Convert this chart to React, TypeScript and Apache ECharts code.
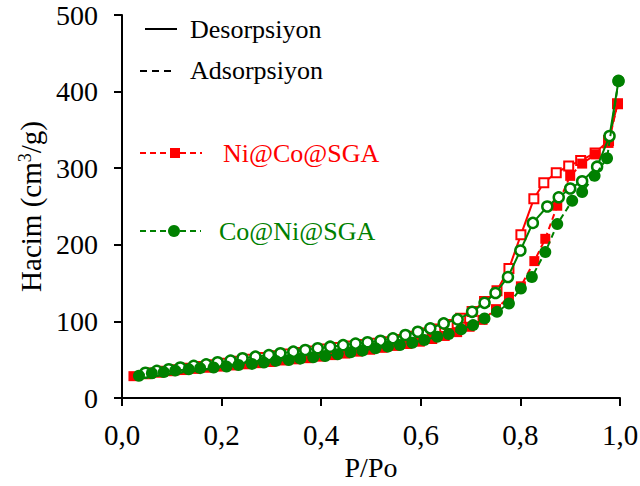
import React, { useEffect, useRef } from "react";
import * as echarts from "echarts";

// Ni@Co@SGA isotherm (relative pressure P/Po, volume cm3/g)
const niAdsP = [0.023, 0.048, 0.073, 0.098, 0.123, 0.148, 0.173, 0.198, 0.223, 0.248, 0.273, 0.298, 0.323, 0.348, 0.373, 0.398, 0.423, 0.448, 0.473, 0.498, 0.523, 0.548, 0.573, 0.598, 0.623, 0.648, 0.673, 0.698, 0.724, 0.751, 0.777, 0.801, 0.828, 0.85, 0.874, 0.9, 0.924, 0.951, 0.977, 0.995];
const niAdsV = [28.5, 31, 33, 35, 36.5, 38, 39.5, 41, 42.5, 44, 45.5, 47, 49, 50.5, 52, 54, 56, 58, 60.5, 63, 65.5, 68, 70.5, 73.5, 77, 81, 86, 93, 102, 116, 132, 145.8, 178.7, 207.8, 251, 290, 306, 318, 333, 384];
const niDesP = [0.995, 0.977, 0.95, 0.921, 0.897, 0.872, 0.847, 0.827, 0.801, 0.777, 0.753, 0.728, 0.703, 0.68, 0.655, 0.63, 0.605, 0.58, 0.555, 0.53, 0.505, 0.48, 0.455, 0.43, 0.405, 0.38, 0.355, 0.33, 0.305, 0.28, 0.255, 0.23, 0.205, 0.18, 0.155, 0.13, 0.105, 0.08, 0.055];
const niDesV = [384, 336, 320, 310, 303, 294, 281, 260, 213, 169, 140, 126, 113, 104, 96, 90, 85, 80.5, 76.5, 73.5, 71.5, 70, 68, 66, 64, 61.5, 59.5, 57.5, 55, 53, 50.5, 48, 45.5, 43.5, 41, 39, 37, 35, 32.5];

// Co@Ni@SGA isotherm
const coAdsP = [0.034, 0.06, 0.084, 0.107, 0.134, 0.157, 0.184, 0.21, 0.234, 0.261, 0.285, 0.309, 0.335, 0.358, 0.384, 0.408, 0.433, 0.459, 0.483, 0.509, 0.534, 0.558, 0.583, 0.607, 0.633, 0.656, 0.681, 0.705, 0.728, 0.753, 0.777, 0.801, 0.823, 0.85, 0.874, 0.904, 0.924, 0.949, 0.974, 0.997];
const coAdsV = [29, 32.4, 33.8, 35.8, 37.6, 39, 39.8, 41, 43, 44.5, 46.2, 48.4, 49.7, 51.4, 53.2, 54.9, 57.1, 59.7, 61.8, 64.9, 67, 69.2, 72.2, 75.7, 80, 83.5, 89.6, 95.2, 103.9, 112.5, 123.4, 142.9, 157.9, 190.5, 227, 257.5, 269, 290, 313, 414];
const coDesP = [0.997, 0.979, 0.954, 0.924, 0.9, 0.877, 0.854, 0.825, 0.8, 0.775, 0.75, 0.728, 0.703, 0.674, 0.646, 0.619, 0.594, 0.569, 0.544, 0.519, 0.493, 0.469, 0.444, 0.418, 0.393, 0.368, 0.344, 0.318, 0.295, 0.268, 0.242, 0.218, 0.192, 0.169, 0.144, 0.117, 0.094, 0.07, 0.047];
const coDesV = [414, 342, 302, 283, 273.5, 262, 250, 228.6, 192.6, 157.9, 137.1, 124.2, 112.5, 102.6, 97.4, 90.9, 86.5, 82.2, 77.9, 74.8, 72.8, 71, 69, 67, 64.9, 62.7, 60.5, 58.4, 56, 54, 51.9, 48.8, 46.7, 44, 42, 39.8, 37.6, 35.5, 33];

const legendLabels = ["Desorpsiyon", "Adsorpsiyon", "Ni@Co@SGA", "Co@Ni@SGA"];

const RED = "#ff0000";
const GREEN = "#008000";
const FONT = "'Liberation Serif', 'Times New Roman', serif";

const pairs = (xs: number[], ys: number[]) => xs.map((x, i) => [x, ys[i]]);

export default function App() {
  const ref = useRef<HTMLDivElement>(null);

  useEffect(() => {
    if (!ref.current) return;
    const chart = echarts.init(ref.current, null, { renderer: "svg" });

    const legendText = (text: string, x: number, y: number, color: string) => ({
      type: "text",
      x,
      y,
      style: { text, fill: color, font: `26px ${FONT}`, textVerticalAlign: "middle" },
    });

    chart.setOption({
      animation: false,
      backgroundColor: "#ffffff",
      grid: { left: 122, right: 20, top: 15, bottom: 88, outerBoundsMode: "none" },
      xAxis: {
        type: "value",
        min: 0,
        max: 1,
        interval: 0.2,
        name: "P/Po",
        nameLocation: "middle",
        nameGap: 52,
        nameTextStyle: { fontFamily: FONT, fontSize: 28, color: "#000" },
        axisLine: { show: true, lineStyle: { color: "#000", width: 2 } },
        axisTick: { show: true, length: 8, lineStyle: { color: "#000", width: 2 } },
        axisLabel: {
          fontFamily: FONT,
          fontSize: 29,
          color: "#000",
          margin: 22,
          formatter: (v: number) => v.toFixed(1).replace(".", ","),
        },
        splitLine: { show: false },
      },
      yAxis: {
        type: "value",
        min: 0,
        max: 500,
        interval: 100,
        name: "Hacim (cm{sup|3}/g)",
        nameLocation: "middle",
        nameRotate: 90,
        nameGap: 73,
        nameTextStyle: {
          fontFamily: FONT,
          fontSize: 29,
          color: "#000",
          rich: { sup: { fontFamily: FONT, fontSize: 18, color: "#000", verticalAlign: "top", padding: [0, 0, 12, 0] } },
        },
        axisLine: { show: true, lineStyle: { color: "#000", width: 2 } },
        axisTick: { show: true, length: 8, lineStyle: { color: "#000", width: 2 } },
        axisLabel: { fontFamily: FONT, fontSize: 28, lineHeight: 24, color: "#000", margin: 24 },
        splitLine: { show: false },
      },
      series: [
        {
          name: "Ni@Co@SGA desorpsiyon",
          type: "line",
          data: pairs(niDesP, niDesV),
          symbol: "rect",
          symbolSize: 9,
          itemStyle: { color: "#ffffff", borderColor: RED, borderWidth: 2 },
          lineStyle: { color: RED, width: 2 },
          z: 2,
        },
        {
          name: "Ni@Co@SGA adsorpsiyon",
          type: "line",
          data: pairs(niAdsP, niAdsV),
          symbol: "rect",
          symbolSize: 10,
          itemStyle: { color: RED, borderWidth: 0 },
          lineStyle: { color: RED, width: 2, type: [6, 4] },
          z: 3,
        },
        {
          name: "Co@Ni@SGA desorpsiyon",
          type: "line",
          data: pairs(coDesP, coDesV),
          symbol: "circle",
          symbolSize: 10,
          itemStyle: { color: "#ffffff", borderColor: GREEN, borderWidth: 2.5 },
          lineStyle: { color: GREEN, width: 2 },
          z: 4,
        },
        {
          name: "Co@Ni@SGA adsorpsiyon",
          type: "line",
          data: pairs(coAdsP, coAdsV),
          symbol: "circle",
          symbolSize: 12,
          itemStyle: { color: GREEN, borderWidth: 0 },
          lineStyle: { color: GREEN, width: 2, type: [6, 4] },
          z: 5,
        },
      ],
      graphic: [
        { type: "line", shape: { x1: 145, y1: 29, x2: 177, y2: 29 }, style: { stroke: "#000", lineWidth: 2 } },
        legendText(legendLabels[0], 190, 29, "#000"),
        { type: "line", shape: { x1: 140, y1: 71, x2: 174, y2: 71 }, style: { stroke: "#000", lineWidth: 2, lineDash: [7, 5] } },
        legendText(legendLabels[1], 190, 70, "#000"),
        { type: "line", shape: { x1: 140, y1: 153, x2: 202, y2: 153 }, style: { stroke: RED, lineWidth: 2, lineDash: [6, 4] } },
        { type: "rect", shape: { x: 170, y: 148, width: 10, height: 10 }, style: { fill: RED } },
        legendText(legendLabels[2], 223, 153, RED),
        { type: "line", shape: { x1: 140, y1: 231, x2: 201, y2: 231 }, style: { stroke: GREEN, lineWidth: 2, lineDash: [6, 4] } },
        { type: "circle", shape: { cx: 174, cy: 231, r: 6 }, style: { fill: GREEN } },
        legendText(legendLabels[3], 219, 231, GREEN),
      ],
    });

    return () => chart.dispose();
  }, []);

  return (
    <div
      ref={ref}
      style={{ position: "fixed", left: 0, top: 0, width: 640, height: 486, background: "#fff" }}
    />
  );
}
